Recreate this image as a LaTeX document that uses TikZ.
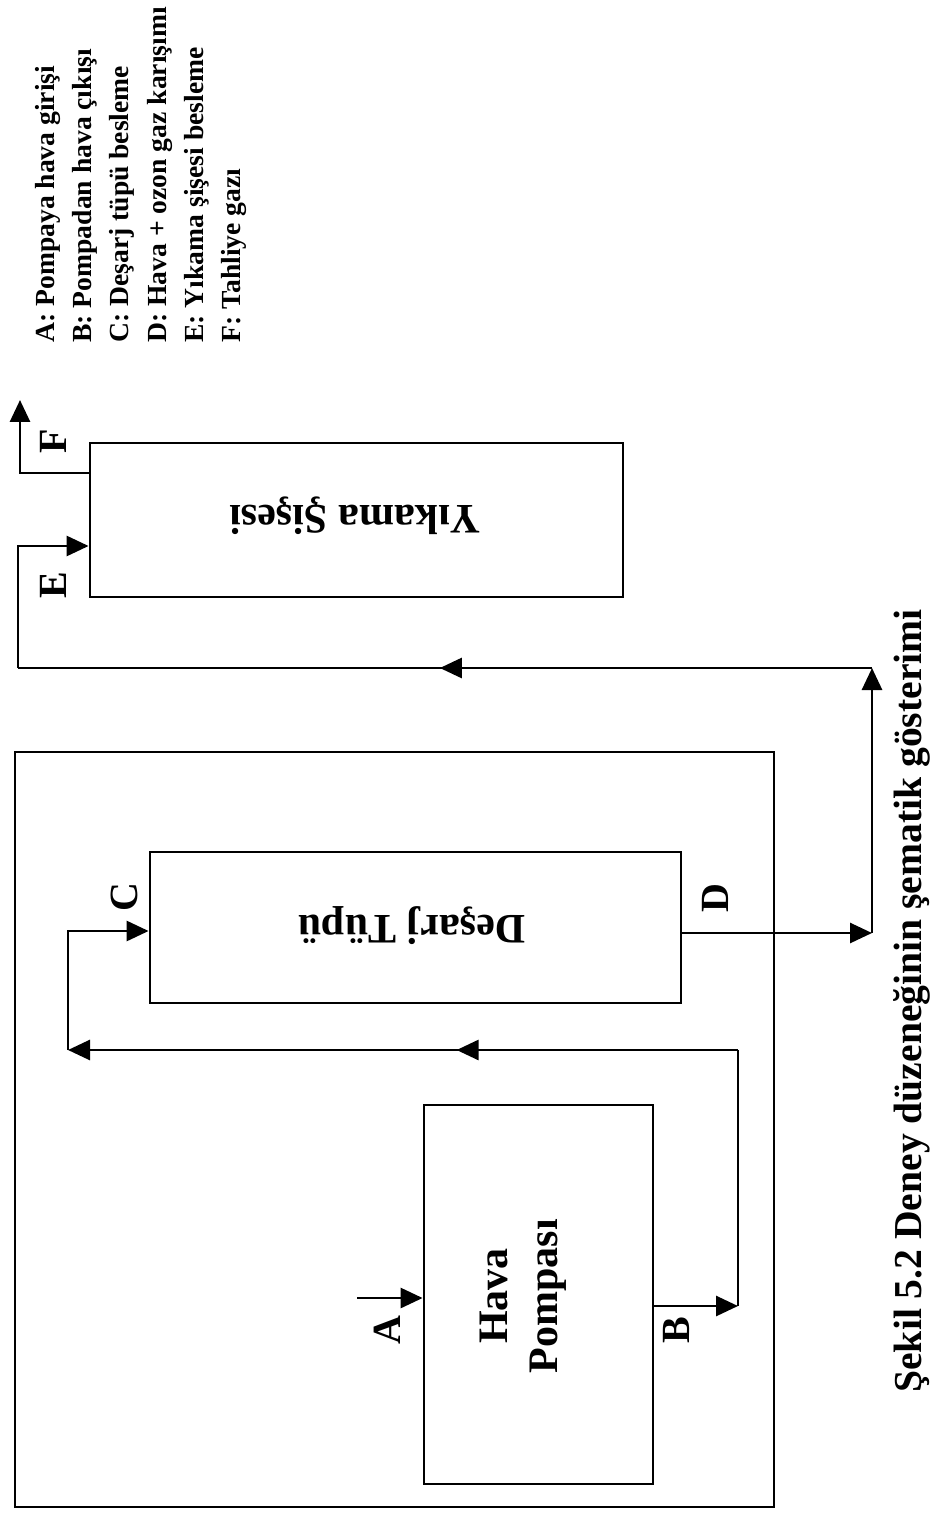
\documentclass[tikz,border=0pt]{standalone}
\usepackage{fontspec}
\setmainfont{Liberation Serif}
\usetikzlibrary{arrows.meta,decorations.markings}
\begin{document}
\begin{tikzpicture}[x=0.5pt,y=-0.5pt,
  boxr/.style={draw, line width=1.4pt, inner sep=0pt},
  conn/.style={line width=1.4pt},
  tip/.style={-{Triangle[length=11pt,width=10pt]}},
  midarrow/.style={postaction={decorate},
    decoration={markings, mark=at position #1 with {\arrow{Triangle[length=11pt,width=10pt]}}}},
  lbl/.style={font=\rmfamily\bfseries\fontsize{20}{24}\selectfont, rotate=90, inner sep=0pt},
  boxtext/.style={font=\rmfamily\bfseries\fontsize{21}{25}\selectfont, inner sep=0pt, align=center}]
\useasboundingbox[fill=white] (0,0) rectangle (932,1513);

% boxes
\node[boxr, minimum width=379.5pt, minimum height=377.5pt] (outer) at (394.5,1129.5) {};
\node[boxr, minimum width=265.5pt, minimum height=75.5pt] (desarj) at (415.5,927.5) {};
\node[boxr, minimum width=266.5pt, minimum height=77pt] (yikama) at (356.5,520) {};
\node[boxr, minimum width=114.5pt, minimum height=189.5pt] (hava) at (538.5,1294.5) {};

% box texts
\node[boxtext, rotate=180] (tdesarj) at (412,926) {Deşarj Tüpü};
\node[boxtext, rotate=180] (tyikama) at (355,516) {Yıkama Şişesi};
\node[boxtext, rotate=90] (thava) at (523,1296) {Hava\\Pompası};

% coordinates
\coordinate (dj) at (872,933);
\coordinate (tr) at (872,668);
\coordinate (tl) at (18,668);
\coordinate (ej) at (18,546);
\coordinate (fc) at (20,473);
\coordinate (fe) at (20,400);
\coordinate (as) at (357,1298);
\coordinate (bj) at (738,1306);
\coordinate (bt) at (738,1050);
\coordinate (cl) at (68,1050);
\coordinate (cu) at (68,931);

% connectors
\draw[conn,tip] (desarj.east |- dj) -- (dj);
\draw[conn,tip] (dj) -- (tr);
\draw[conn,midarrow=0.506] (tr) -- (tl);
\draw[conn,tip] (tl) -- (ej) -- (yikama.west |- ej);
\draw[conn,tip] (yikama.west |- fc) -- (fc) -- (fe);
\draw[conn,tip] (as) -- (hava.west |- as);
\draw[conn,tip] (hava.east |- bj) -- (bj);
\draw[conn] (bj) -- (bt);
\draw[conn,tip,midarrow=0.42] (bt) -- (cl);
\draw[conn,tip] (cl) -- (cu) -- (desarj.west |- cu);

% labels
\node[lbl] (lf) at (53,441) {F};
\node[lbl] (le) at (53,585) {E};
\node[lbl] (lc) at (124,897) {C};
\node[lbl] (ld) at (715,898) {D};
\node[lbl] (la) at (387,1330) {A};
\node[lbl] (lb) at (676,1330) {B};

% legend
\node[rotate=90, anchor=north west, align=left, inner sep=0pt,
  font=\rmfamily\bfseries\fontsize{13.8}{18.6}\selectfont] (legend) at (35,343)
  {A: Pompaya hava girişi\\B: Pompadan hava çıkışı\\C: Deşarj tüpü besleme\\D: Hava + ozon gaz karışımı\\E: Yıkama şişesi besleme\\F: Tahliye gazı};

% caption
\node[rotate=90, inner sep=0pt, font=\rmfamily\bfseries\fontsize{19.8}{24}\selectfont] (caption) at (912,1001)
  {Şekil 5.2 Deney düzeneğinin şematik gösterimi};
\end{tikzpicture}
\end{document}
